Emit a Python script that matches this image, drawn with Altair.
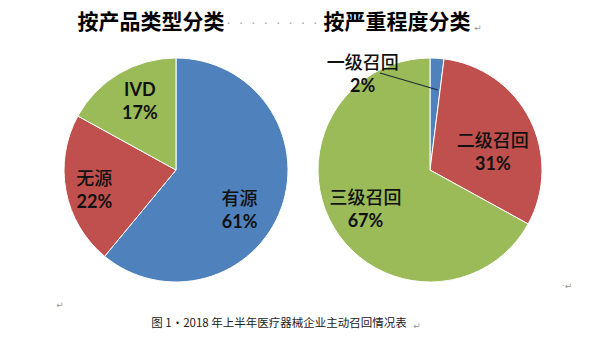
import math
import altair as alt
import pandas as pd

# ---- data ----
left_title = "按产品类型分类"
right_title = "按严重程度分类"
left_cats = ["有源", "无源", "IVD"]
left_vals = [61, 22, 17]
right_cats = ["一级召回", "二级召回", "三级召回"]
right_vals = [2, 31, 67]
caption = "图 1·2018 年上半年医疗器械企业主动召回情况表"

colors = ["#4F81BD", "#C0504D", "#9BBB59"]

W, H = 602, 352
R = 112
theta_scale = alt.Scale(domain=[0, 1], range=[0, 2 * math.pi])
CJK = "Noto Sans CJK SC"
NUM = "Lato, Noto Sans CJK SC"


def pie(cats, vals, cx, cy, label_offsets):
    df = pd.DataFrame({"idx": list(range(len(cats))), "cat": cats, "val": vals})
    base = (
        alt.Chart(df)
        .transform_joinaggregate(total="sum(val)")
        .transform_window(cum="sum(val)", sort=[alt.SortField("idx", order="ascending")], frame=[None, 0])
        .transform_calculate(
            start="(datum.cum - datum.val) / datum.total",
            end="datum.cum / datum.total",
            mid="(datum.cum - datum.val / 2) / datum.total",
            pct="format(datum.val / datum.total, '.0%')",
        )
    )
    arcs = base.mark_arc(outerRadius=R, stroke="white", strokeWidth=1).encode(
        theta=alt.Theta("start:Q", scale=theta_scale),
        theta2="end:Q",
        color=alt.Color("idx:N", scale=alt.Scale(domain=[0, 1, 2], range=colors), legend=None),
        x=alt.value(cx),
        y=alt.value(cy),
    )
    layers = [arcs]
    for i, (r, dx, dy) in enumerate(label_offsets):
        sub = base.transform_filter(f"datum.idx == {i}")
        name = sub.mark_text(
            radius=r, dx=dx, dy=dy - 11.5, font=NUM if cats[i].isascii() else CJK,
            fontSize=18, fontWeight="bold" if cats[i].isascii() else 500,
            color="#111111", baseline="middle", align="center",
        ).encode(
            theta=alt.Theta("mid:Q", scale=theta_scale, stack=False),
            text="cat:N", x=alt.value(cx), y=alt.value(cy),
        )
        pct = sub.mark_text(
            radius=r, dx=dx, dy=dy + 11.5, font=NUM, fontSize=18, fontWeight="bold",
            color="#111111", baseline="middle", align="center",
        ).encode(
            theta=alt.Theta("mid:Q", scale=theta_scale, stack=False),
            text="pct:N", x=alt.value(cx), y=alt.value(cy),
        )
        layers += [name, pct]
    return layers


left = pie(left_cats, left_vals, 176, 170, [(75, -7, 16), (75, -8, 7), (75, 2, -3)])
right = pie(right_cats, right_vals, 430, 170, [(75, -72, -20), (75, -4, 18), (75, 0, 2)])


def label(text, x, y, **kw):
    return alt.Chart(pd.DataFrame({"t": [text]})).mark_text(**kw).encode(
        text="t:N", x=alt.value(x), y=alt.value(y)
    )


leader = alt.Chart(pd.DataFrame({"a": [0]})).mark_rule(color="#1c2b3a", strokeWidth=1.2).encode(
    x=alt.value(380), y=alt.value(73), x2=alt.value(438), y2=alt.value(90)
)

dots = "\u00a0\u00a0".join(["·"] * 8)
annotations = [
    label(left_title, 151, 23, font=CJK, fontSize=21, fontWeight="bold", color="#000000", align="center", baseline="middle"),
    label(right_title, 397, 23, font=CJK, fontSize=21, fontWeight="bold", color="#000000", align="center", baseline="middle"),
    label(dots, 272, 24, font="DejaVu Sans", fontSize=13, color="#aaaaaa", align="center", baseline="middle"),
    label("↵", 478, 28, font="DejaVu Sans", fontSize=9, color="#999999", align="center", baseline="middle"),
    label("↵", 60, 305, font="DejaVu Sans", fontSize=9, color="#999999", align="center", baseline="middle"),
    label("·↵", 567, 286, font="DejaVu Sans", fontSize=9, color="#999999", align="center", baseline="middle"),
    label(caption, 279, 324, font=CJK, fontSize=11.5, color="#222222", align="center", baseline="middle"),
    label("↵", 417, 326, font="DejaVu Sans", fontSize=9, color="#999999", align="center", baseline="middle"),
]

chart = alt.layer(*left, *right, leader, *annotations).properties(
    width=W, height=H, autosize=alt.AutoSizeParams(type="none"), padding=0, background="white"
).configure_view(stroke=None)

chart.save("out.html", embed_options={"renderer": "svg", "actions": False})
